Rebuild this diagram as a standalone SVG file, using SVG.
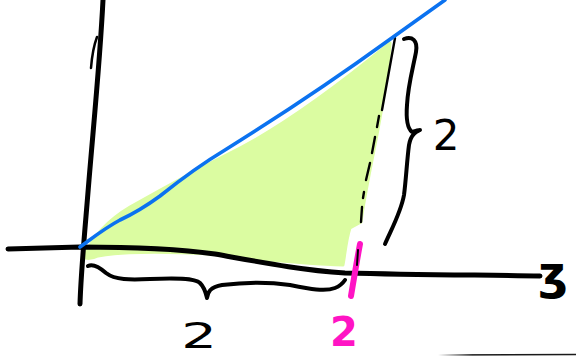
<svg xmlns="http://www.w3.org/2000/svg" width="576" height="356" viewBox="0 0 576 356">
  <defs>
    <style>
      .ink { fill: none; stroke: #000; stroke-linecap: round; stroke-linejoin: round; }
      .axis { stroke-width: 5; }
      .brace { stroke-width: 4; }
      .dash { stroke-width: 2.4; }
      .hand { font-family: "DejaVu Sans", "Liberation Sans", sans-serif; text-anchor: middle; }
    </style>
    <linearGradient id="fade" x1="0" y1="0" x2="1" y2="0">
      <stop offset="0" stop-color="#000" stop-opacity="0"/>
      <stop offset="0.25" stop-color="#000" stop-opacity="0.9"/>
      <stop offset="1" stop-color="#000" stop-opacity="0.9"/>
    </linearGradient>
  </defs>
  <rect width="576" height="356" fill="#fff"/>

  <g id="area">
    <path d="M84,257 C92,238 108,220 130,207 C160,190 200,168 240,148 C290,122 340,84 390,43 C388,80 380,120 374,150 C368,180 363,205 361,222 L350,228 C346,240 345,255 343,265 C300,264 260,259 210,254 C160,251 120,252 98,256 C92,259 86,259 84,257 Z" fill="#dbfca1" stroke="#dbfca1" stroke-width="3" stroke-linejoin="round"/>
  </g>

  <g id="axes">
    <path class="ink axis" d="M103,0 C100,60 94,120 89,180 C85,230 81,270 80,304"/>
    <path class="ink" stroke-width="2.5" d="M97,37 C94,45 92,55 91,68"/>
    <path class="ink axis" d="M8,249 L80,247 C130,247 180,249 215,254 C260,262 300,270 345,273 C420,275 490,275 540,276"/>
  </g>

  <g id="connectors">
    <path id="dashed-edge" class="ink dash" d="M395,38 L382,110 M379,116 L377,127 M375,137 L372,153 M370,163 L366,180 M364,192 L363,198 M362,207 L361,222"/>
    <path id="right-brace" class="ink brace" d="M404,39 C412,36 418,40 416,52 C413,68 408,85 407,105 C406,118 407,128 412,132 C415,131 418,130 420,130 C416,132 411,134 409,145 C407,160 406,180 404,195 C401,212 392,228 385,244"/>
    <path id="bottom-brace" class="ink brace" d="M88,266 C92,264 98,266 106,273 C115,280 130,280 150,279 C175,278 195,278 200,283 C205,288 206,294 207,298 C208,292 210,287 222,285 C245,282 270,282 290,285 C310,289 325,292 335,288 C340,286 343,283 345,280"/>
  </g>

  <g id="line">
    <path d="M80,247 C95,236 105,228 120,220 C135,213 145,207 160,196 C180,180 200,165 225,150 C270,122 320,90 389,40 L445,0" fill="none" stroke="#0b72f0" stroke-width="3.6" stroke-linecap="round" stroke-linejoin="round"/>
  </g>

  <g id="tick">
    <path d="M360,244 C357,260 354,278 351,296" fill="none" stroke="#ff14c4" stroke-width="6" stroke-linecap="round"/>
    <path class="ink" stroke-width="2" d="M358,250 L357,265"/>
  </g>

  <g id="labels">
    <text class="hand" x="446" y="150" font-size="42">2</text>
    <text class="hand" x="0" y="0" font-size="35" transform="translate(199,348) scale(1.6,1)">2</text>
    <text class="hand" x="344" y="346" font-size="40" font-weight="bold" fill="#ff14c4">2</text>
    <text class="hand" x="553" y="289" font-size="46" font-weight="bold">ʒ</text>
  </g>

  <g id="baseline-stroke">
    <path d="M438,355 L576,354.5" fill="none" stroke="url(#fade)" stroke-width="1.6"/>
  </g>
</svg>
